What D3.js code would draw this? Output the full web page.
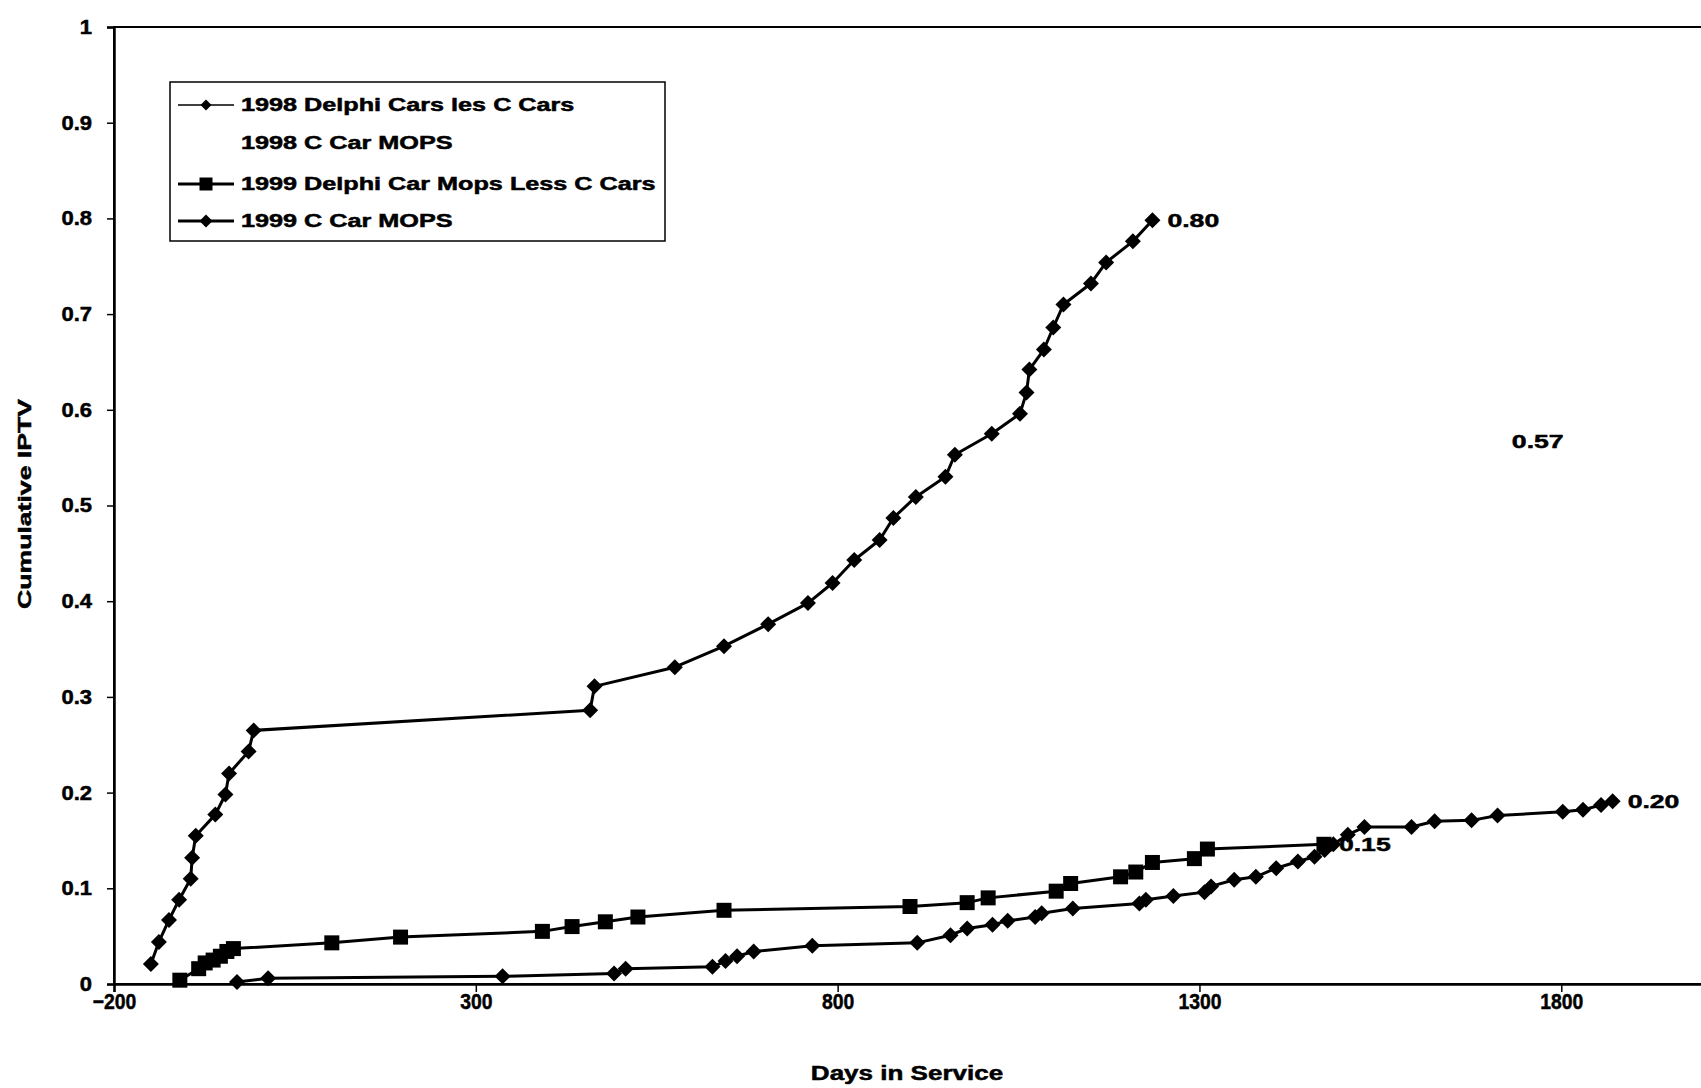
<!DOCTYPE html>
<html><head><meta charset="utf-8">
<script src="https://cdn.jsdelivr.net/npm/d3@7"></script>
<style>
body{margin:0;background:#fff}
svg{display:block}
text{font-family:"Liberation Sans",Arial,sans-serif;font-weight:bold;fill:#000;stroke:#000;stroke-width:0.5px}
</style>
</head><body>
<svg id="chart" width="1701" height="1088"></svg>
<script>
// ---------- data ----------
const xTickValues = [-200, 300, 800, 1300, 1800];
const yTickValues = [0, 0.1, 0.2, 0.3, 0.4, 0.5, 0.6, 0.7, 0.8, 0.9, 1];
const yTickLabels = ["0", "0.1", "0.2", "0.3", "0.4", "0.5", "0.6", "0.7", "0.8", "0.9", "1"];
const xTitle = "Days in Service";
const yTitle = "Cumulative IPTV";
const legendNames = ["1998 Delphi Cars les C Cars", "1998 C Car MOPS", "1999 Delphi Car Mops Less C Cars", "1999 C Car MOPS"];

// 1998 Delphi Cars les C Cars (lower diamond series)
const delphi1998 = [[-30,0.002],[13,0.006],[337,0.008],[491,0.011],[507,0.016],[627,0.018],[645,0.024],[661,0.029],[684,0.034],[765,0.040],[910,0.043],[956,0.051],[979,0.058],[1014,0.062],[1035,0.066],[1073,0.070],[1082,0.074],[1125,0.079],[1217,0.084],[1226,0.088],[1264,0.092],[1307,0.096],[1316,0.102],[1348,0.109],[1378,0.112],[1406,0.121],[1436,0.128],[1459,0.133],[1473,0.140],[1485,0.146],[1505,0.156],[1528,0.164],[1593,0.164],[1625,0.170],[1676,0.171],[1712,0.176],[1802,0.180],[1830,0.182],[1855,0.187],[1871,0.191]];
// 1998 C Car MOPS (no visible line, only its end label)
const cCar1998 = [[1711,0.567]];
// 1999 Delphi Car Mops Less C Cars (squares)
const delphi1999 = [[-109,0.004],[-83,0.016],[-74,0.022],[-63,0.025],[-53,0.029],[-44,0.034],[-35,0.037],[101,0.043],[196,0.049],[392,0.055],[433,0.060],[479,0.065],[524,0.070],[643,0.077],[900,0.081],[979,0.085],[1008,0.090],[1102,0.097],[1122,0.105],[1191,0.112],[1212,0.117],[1235,0.127],[1293,0.131],[1311,0.141],[1472,0.146]];
// 1999 C Car MOPS (upper diamond series)
const cCar1999 = [[-149,0.021],[-138,0.044],[-124,0.067],[-110,0.088],[-94,0.110],[-92,0.132],[-87,0.155],[-60,0.177],[-46,0.198],[-41,0.220],[-14,0.243],[-7,0.265],[458,0.286],[464,0.311],[575,0.331],[643,0.353],[704,0.376],[759,0.398],[793,0.419],[823,0.443],[858,0.464],[877,0.487],[908,0.509],[949,0.530],[962,0.553],[1013,0.575],[1052,0.596],[1061,0.618],[1065,0.642],[1085,0.663],[1098,0.686],[1112,0.710],[1150,0.732],[1171,0.754],[1208,0.776],[1235,0.798]];
const endLabels = ["0.20", "0.57", "0.15", "0.80"];

// ---------- layout ----------
const svg = d3.select("#chart");
const L = 114, T = 27, R = 1706, B = 984;
const x = d3.scaleLinear().domain([-200, 2000]).range([L, R]);
const y = d3.scaleLinear().domain([0, 1]).range([B, T]);

function stretch(sel, f) {
  sel.each(function () {
    const w = this.getComputedTextLength();
    d3.select(this).attr("textLength", w * f).attr("lengthAdjust", "spacingAndGlyphs");
  });
}

// plot frame
svg.append("rect").attr("x", L).attr("y", T).attr("width", R - L).attr("height", B - T)
  .attr("fill", "none").attr("stroke", "#000").attr("stroke-width", 2);

// axes
const yAxis = d3.axisLeft(y).tickValues(yTickValues).tickFormat((d, i) => yTickLabels[i]).tickSize(7).tickPadding(15);
const gy = svg.append("g").attr("transform", `translate(${L},0)`).call(yAxis);
gy.select(".domain").attr("stroke-width", 2.5);
gy.selectAll(".tick line").attr("stroke-width", 1.5);
gy.selectAll(".tick text").attr("font-size", 20).attr("font-family", "Liberation Sans, Arial, sans-serif").attr("font-weight", "bold").call(stretch, 1.1);

const xAxis = d3.axisBottom(x).tickValues(xTickValues).tickFormat(d3.format("d")).tickSize(8).tickPadding(1);
const gx = svg.append("g").attr("transform", `translate(0,${B})`).call(xAxis);
gx.select(".domain").attr("stroke-width", 2.5);
gx.selectAll(".tick line").attr("stroke-width", 1.5);
gx.selectAll(".tick text").attr("font-size", 22).attr("font-family", "Liberation Sans, Arial, sans-serif").attr("font-weight", "bold").call(stretch, 0.88);

// axis titles
svg.append("text").attr("x", 907).attr("y", 1080).attr("text-anchor", "middle")
  .attr("font-size", 20).text(xTitle).call(stretch, 1.3);
svg.append("text").attr("transform", "translate(31,504) rotate(-90)").attr("text-anchor", "middle")
  .attr("font-size", 19).text(yTitle).call(stretch, 1.4);

// markers
const diamond = s => `M0,${-s}L${s},0L0,${s}L${-s},0Z`;
const square = s => `M${-s},${-s}H${s}V${s}H${-s}Z`;

const series = [
  { data: delphi1998, marker: diamond(8), line: true, lw: 3, legendLw: 1.5, legendMarker: diamond(5.5), label: endLabels[0] },
  { data: cCar1998, marker: null, line: false, label: endLabels[1] },
  { data: delphi1999, marker: square(7.5), line: true, lw: 3, legendLw: 3, legendMarker: square(6.5), label: endLabels[2] },
  { data: cCar1999, marker: diamond(8), line: true, lw: 3, legendLw: 3, legendMarker: diamond(6.5), label: endLabels[3] }
];

const lineGen = d3.line().x(d => x(d[0])).y(d => y(d[1]));
series.forEach(s => {
  const g = svg.append("g");
  if (s.line) {
    g.append("path").attr("d", lineGen(s.data)).attr("fill", "none")
      .attr("stroke", "#000").attr("stroke-width", s.lw).attr("stroke-linejoin", "round");
  }
  if (s.marker) {
    g.selectAll("path.m").data(s.data).enter().append("path").attr("class", "m")
      .attr("d", s.marker).attr("fill", "#000")
      .attr("transform", d => `translate(${x(d[0])},${y(d[1])})`);
  }
  const last = s.data[s.data.length - 1];
  g.append("text").attr("x", x(last[0]) + 15).attr("y", y(last[1])).attr("dy", "0.36em")
    .attr("font-size", 19).text(s.label).call(stretch, 1.4);
});

// legend
const lg = svg.append("g");
lg.append("rect").attr("x", 170).attr("y", 82).attr("width", 495).attr("height", 159)
  .attr("fill", "#fff").attr("stroke", "#000").attr("stroke-width", 1.5);
const legY = [105, 143, 184, 221];
series.forEach((s, i) => {
  const yy = legY[i];
  if (s.line) {
    lg.append("line").attr("x1", 178).attr("x2", 234).attr("y1", yy).attr("y2", yy)
      .attr("stroke", "#000").attr("stroke-width", s.legendLw);
    lg.append("path").attr("d", s.legendMarker).attr("fill", "#000").attr("transform", `translate(206,${yy})`);
  }
  lg.append("text").attr("x", 241).attr("y", yy).attr("dy", "0.36em").attr("font-size", 18)
    .text(legendNames[i]).call(stretch, 1.4);
});
</script>
</body></html>
